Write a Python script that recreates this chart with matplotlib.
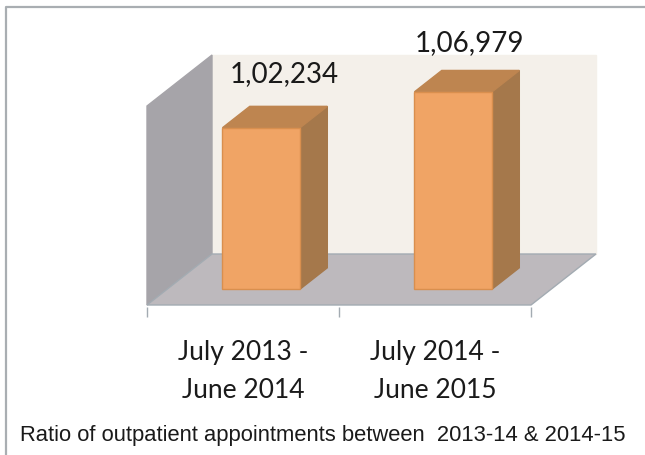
import matplotlib
matplotlib.use("Agg")
import matplotlib.pyplot as plt
from matplotlib.patches import Polygon

# values, y axis does not start at zero
periods = ["July 2013 -\nJune 2014", "July 2014 -\nJune 2015"]
appointments = [102234, 106979]
value_labels = ["1,02,234", "1,06,979"]

FIG_W, FIG_H = 645, 455
# front plane of the fake 3D box, in pixels
LEFT, RIGHT, FLOOR, WALL_H = 147, 531, 305, 199
Y_MIN, Y_MAX = 80900, 107200

# how far the back of the box is shifted, in data units
UNITS_PER_PX = (Y_MAX - Y_MIN) / WALL_H
DEPTH_X = 65 / ((RIGHT - LEFT) / 2)
DEPTH_Y = 51 * UNITS_PER_PX

BAR_CENTER = 0.49
BAR_WIDTH = 0.404
BAR_FRONT, BAR_BACK = 0.31, 0.73


def project(x, value, depth):
    """
    Move a point of the box backwards, along the oblique axis.
    """
    return (x + depth * DEPTH_X, value + depth * DEPTH_Y)


def add_face(ax, corners, color, edge=None):
    """
    Draw one flat face given as (x, value, depth) corners.
    """
    points = [project(*c) for c in corners]
    ax.add_patch(Polygon(points, closed=True, facecolor=color,
                         edgecolor=edge if edge else color,
                         linewidth=1, clip_on=False))


def main() -> None:
    """
    Main function
    """
    fig = plt.figure(figsize=(FIG_W / 100, FIG_H / 100), dpi=100)
    ax = fig.add_axes([LEFT / FIG_W, (FIG_H - FLOOR) / FIG_H,
                       (RIGHT - LEFT) / FIG_W, WALL_H / FIG_H])
    ax.set_xlim(0, len(appointments))
    ax.set_ylim(Y_MIN, Y_MAX)
    ax.patch.set_visible(False)
    for spine in ax.spines.values():
        spine.set_visible(False)
    ax.spines["bottom"].set_position(("outward", 1.5))
    ax.yaxis.set_visible(False)

    x_end = len(appointments)

    # Box: back wall, left wall, floor
    add_face(ax, [(0, Y_MIN, 1), (x_end, Y_MIN, 1),
                  (x_end, Y_MAX, 1), (0, Y_MAX, 1)], "#F4F0EA")
    add_face(ax, [(0, Y_MIN, 0), (0, Y_MIN, 1),
                  (0, Y_MAX, 1), (0, Y_MAX, 0)], "#A6A4A9")
    add_face(ax, [(0, Y_MIN, 0), (x_end, Y_MIN, 0),
                  (x_end, Y_MIN, 1), (0, Y_MIN, 1)], "#BDB9BD", "#A3ABB2")

    # Bars
    for i, value in enumerate(appointments):
        x0 = i + BAR_CENTER - BAR_WIDTH / 2
        x1 = i + BAR_CENTER + BAR_WIDTH / 2
        add_face(ax, [(x1, Y_MIN, BAR_FRONT), (x1, Y_MIN, BAR_BACK),
                      (x1, value, BAR_BACK), (x1, value, BAR_FRONT)],
                 "#A5784B")
        add_face(ax, [(x0, value, BAR_FRONT), (x1, value, BAR_FRONT),
                      (x1, value, BAR_BACK), (x0, value, BAR_BACK)],
                 "#BE8550")
        add_face(ax, [(x0, Y_MIN, BAR_FRONT), (x1, Y_MIN, BAR_FRONT),
                      (x1, value, BAR_FRONT), (x0, value, BAR_FRONT)],
                 "#F0A465", "#D98F4E")
        ax.annotate(value_labels[i],
                    xy=project(i + BAR_CENTER, value, BAR_BACK),
                    xytext=(-3 - 5 * i, 23 - 3 * i),
                    textcoords="offset points", ha="center", va="center",
                    fontsize=20, family="Lato", color="#1A1A1A",
                    annotation_clip=False)

    # Ticks sit on the category borders, labels between them
    ax.set_xticks(range(x_end + 1))
    ax.set_xticklabels([])
    ax.tick_params(axis="x", which="major", length=7.5, width=1,
                   color="#A3ABB2")
    ax.set_xticks([i + 0.5 for i in range(x_end)], minor=True)
    ax.set_xticklabels(periods, minor=True, fontsize=19, family="Lato",
                       color="#1A1A1A", linespacing=1.62)
    ax.tick_params(axis="x", which="minor", length=0, pad=24)

    # Frame of the original figure: top and left only
    fig.add_artist(plt.Line2D([6 / FIG_W, 6 / FIG_W, 1],
                              [0, 1 - 7 / FIG_H, 1 - 7 / FIG_H],
                              color="#A9AEB2", linewidth=1.6))

    fig.text(20 / FIG_W, 1 - 436 / FIG_H,
             "Ratio of outpatient appointments between  2013-14 & 2014-15",
             fontsize=15.85, family="Liberation Sans", color="#1A1A1A",
             va="center", ha="left")

    fig.savefig("out.png", dpi=100)


if __name__ == "__main__":
    main()
